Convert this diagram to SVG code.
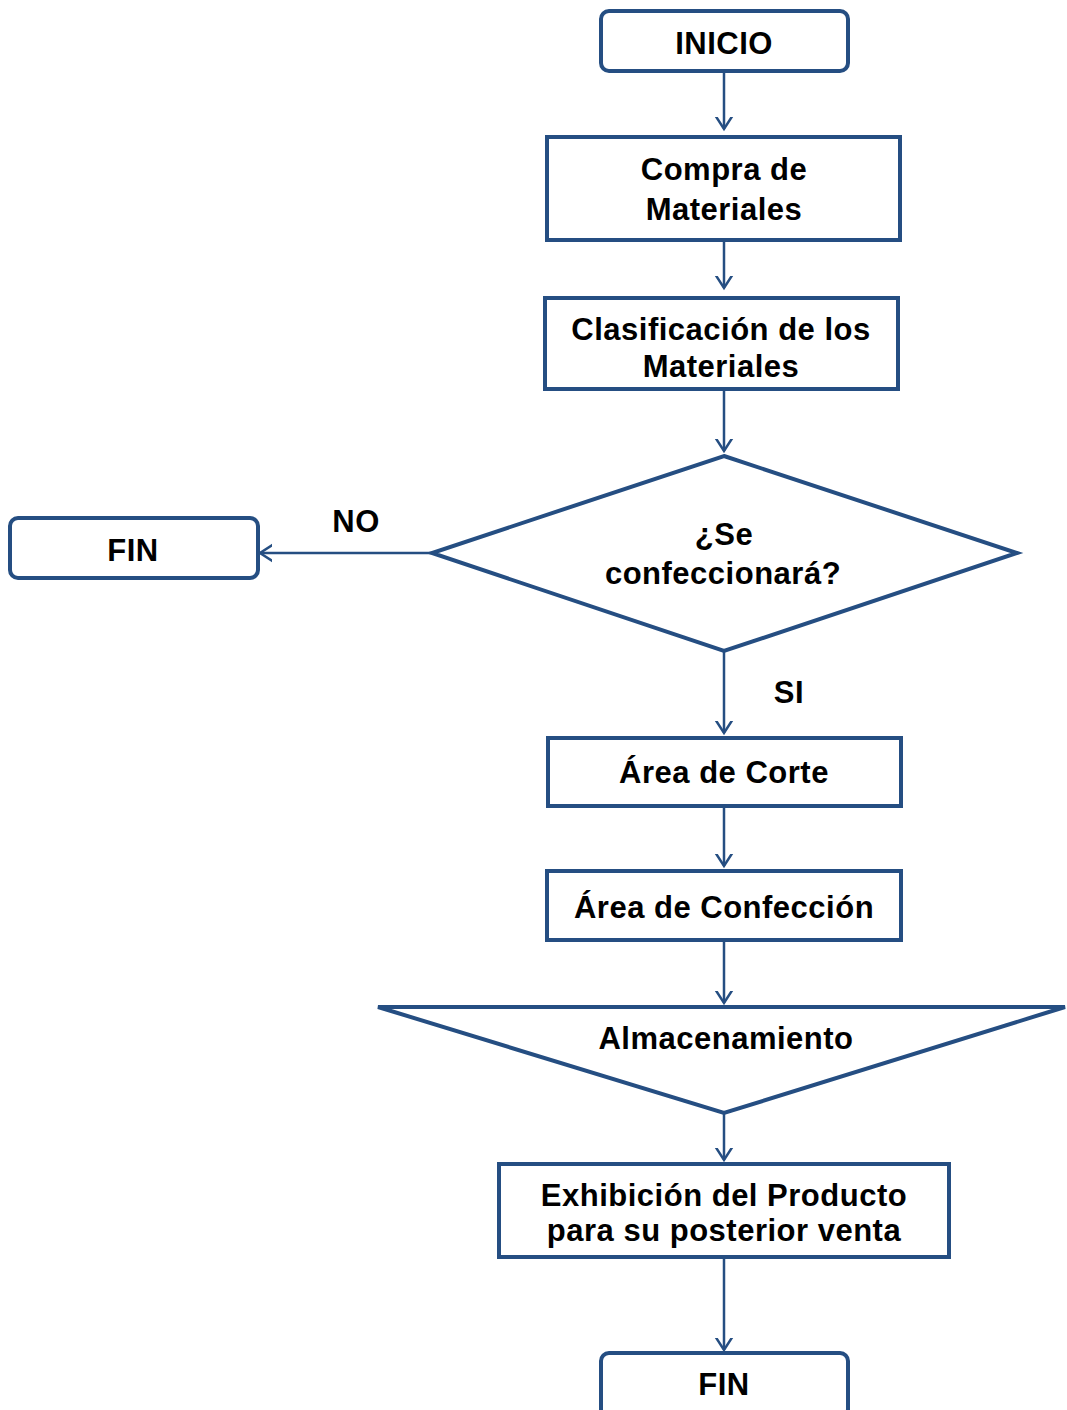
<svg xmlns="http://www.w3.org/2000/svg" width="1067" height="1410" viewBox="0 0 1067 1410">
<style>
.n{fill:#fff;stroke:#254E82;stroke-width:4}
.t{font-family:"Liberation Sans",Arial,sans-serif;font-weight:bold;font-size:31px;letter-spacing:0.5px;fill:#000;text-anchor:middle}
.c{stroke:#254E82;stroke-width:2.5;fill:none}
</style>
<defs>
<marker id="a" markerWidth="24" markerHeight="24" viewBox="-12 -12 24 24" refX="0" refY="0" orient="auto" markerUnits="userSpaceOnUse">
<path d="M-14,-9 L0,0 L-14,9" fill="none" stroke="#254E82" stroke-width="2.5"/>
</marker>
</defs>
<rect width="1067" height="1410" fill="#fff"/>
<g id="connectors">
<line class="c" x1="724" y1="71" x2="724" y2="129" marker-end="url(#a)"/>
<line class="c" x1="724" y1="240" x2="724" y2="288" marker-end="url(#a)"/>
<line class="c" x1="724" y1="389" x2="724" y2="451" marker-end="url(#a)"/>
<line class="c" x1="432" y1="553" x2="260" y2="553" marker-end="url(#a)"/>
<line class="c" x1="724" y1="651" x2="724" y2="733" marker-end="url(#a)"/>
<line class="c" x1="724" y1="806" x2="724" y2="866" marker-end="url(#a)"/>
<line class="c" x1="724" y1="940" x2="724" y2="1003" marker-end="url(#a)"/>
<line class="c" x1="724" y1="1113" x2="724" y2="1160" marker-end="url(#a)"/>
<line class="c" x1="724" y1="1257" x2="724" y2="1350" marker-end="url(#a)"/>
<text class="t" x="356" y="532">NO</text>
<text class="t" x="789" y="703">SI</text>
</g>
<g id="inicio"><rect class="n" x="601" y="11" width="247" height="60" rx="8"/><text class="t" x="724" y="54">INICIO</text></g>
<g id="compra"><rect class="n" x="547" y="137" width="353" height="103"/><text class="t" x="724" y="180">Compra de</text><text class="t" x="724" y="220">Materiales</text></g>
<g id="clasificacion"><rect class="n" x="545" y="298" width="353" height="91"/><text class="t" x="721" y="340">Clasificación de los</text><text class="t" x="721" y="377">Materiales</text></g>
<g id="decision"><polygon class="n" points="724,456 1017,553 724,651 432,553"/><text class="t" x="724" y="545">¿Se</text><text class="t" x="723" y="584">confeccionará?</text></g>
<g id="fin1"><rect class="n" x="10" y="518" width="248" height="60" rx="8"/><text class="t" x="133" y="561">FIN</text></g>
<g id="corte"><rect class="n" x="548" y="738" width="353" height="68"/><text class="t" x="724" y="783">Área de Corte</text></g>
<g id="confeccion"><rect class="n" x="547" y="871" width="354" height="69"/><text class="t" x="724" y="918">Área de Confección</text></g>
<g id="almacenamiento"><polygon class="n" points="378,1007 1065,1007 724,1113"/><text class="t" x="726" y="1049">Almacenamiento</text></g>
<g id="exhibicion"><rect class="n" x="499" y="1164" width="450" height="93"/><text class="t" x="724" y="1206">Exhibición del Producto</text><text class="t" x="724" y="1241">para su posterior venta</text></g>
<g id="fin2"><rect class="n" x="601" y="1353" width="247" height="64" rx="8"/><text class="t" x="724" y="1395">FIN</text></g>
</svg>
